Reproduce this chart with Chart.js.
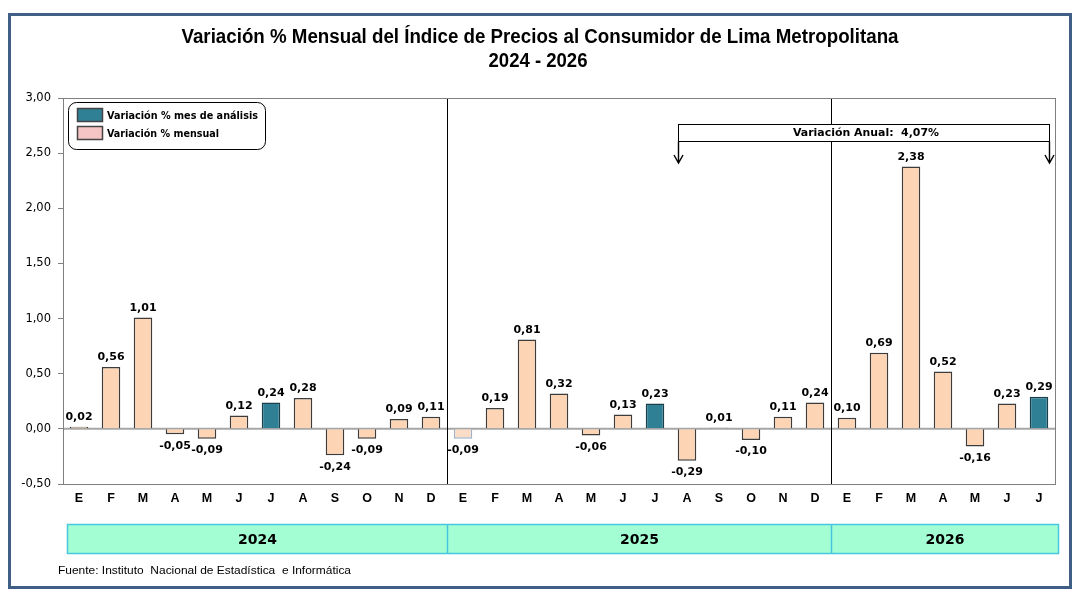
<!DOCTYPE html>
<html>
<head>
<meta charset="utf-8">
<script src="https://cdn.jsdelivr.net/npm/chart.js@4.4.1/dist/chart.umd.min.js"></script>
<style>
  html, body { margin: 0; padding: 0; background: #fff; }
  canvas { display: block; }
</style>
</head>
<body>
<canvas id="ipcChart" width="1082" height="597" style="width:1082px;height:597px"></canvas>
<script>
// meses (E..D) para 2024, 2025 y 2026 (hasta julio)
const meses = ['E','F','M','A','M','J','J','A','S','O','N','D',
               'E','F','M','A','M','J','J','A','S','O','N','D',
               'E','F','M','A','M','J','J'];
const anios = ['2024', '2025', '2026'];
const mesesPorAnio = [12, 12, 7];

const var2024 = [0.02, 0.56, 1.01, -0.05, -0.09, 0.12, 0.24, 0.28, -0.24, -0.09, 0.09, 0.11];
const var2025 = [-0.09, 0.19, 0.81, 0.32, -0.06, 0.13, 0.23, -0.29, 0.01, -0.10, 0.11, 0.24];
const var2026 = [0.10, 0.69, 2.38, 0.52, -0.16, 0.23, 0.29];
const variaciones = var2024.concat(var2025, var2026);

// indices del mes de analisis (julio de cada año)
const mesAnalisis = [6, 18, 30];
const yTicks = [-0.5, 0, 0.5, 1, 1.5, 2, 2.5, 3];
const variacionAnual = '4,07%';
const inicioAnual = 19, finAnual = 30;

const TEAL = '#2f7f95';
const PEACH = '#fdd5b4';

function coma(v) { return v.toFixed(2).replace('.', ','); }

// texto ajustado a un ancho dado (escala horizontal)
function textoAncho(ctx, txt, x, y, ancho, align) {
  const w = ctx.measureText(txt).width;
  const s = ancho / w;
  ctx.save();
  ctx.translate(x, y);
  ctx.scale(s, 1);
  ctx.textAlign = align || 'left';
  ctx.fillText(txt, 0, 0);
  ctx.restore();
}

const decoracion = {
  id: 'decoracion',
  beforeDatasetsDraw(chart) {
    const { ctx, chartArea: a, scales } = chart;
    const y0 = scales.y.getPixelForValue(0);
    ctx.save();
    // linea del cero
    ctx.strokeStyle = '#a6a6a6';
    ctx.lineWidth = 2;
    ctx.beginPath();
    ctx.moveTo(a.left, y0);
    ctx.lineTo(a.right, y0);
    ctx.stroke();
    // separadores de año
    ctx.strokeStyle = '#000';
    ctx.lineWidth = 1;
    let idx = 0;
    for (let i = 0; i < mesesPorAnio.length - 1; i++) {
      idx += mesesPorAnio[i];
      const x = Math.round((scales.x.getPixelForValue(idx - 1) + scales.x.getPixelForValue(idx)) / 2) + 0.5;
      ctx.beginPath();
      ctx.moveTo(x, a.top);
      ctx.lineTo(x, a.bottom);
      ctx.stroke();
    }
    ctx.restore();
  },
  afterDatasetsDraw(chart) {
    const { ctx, chartArea: a, scales } = chart;
    const meta = chart.getDatasetMeta(0);
    ctx.save();
    // etiquetas de datos
    ctx.font = 'bold 11px "DejaVu Sans"';
    ctx.fillStyle = '#000';
    ctx.textAlign = 'center';
    meta.data.forEach((bar, i) => {
      const v = variaciones[i];
      if (v >= 0) {
        ctx.textBaseline = 'bottom';
        ctx.fillText(coma(v), bar.x, bar.y - 4);
      } else {
        ctx.textBaseline = 'top';
        ctx.fillText(coma(v), bar.x, bar.y + 6);
      }
    });

    // recuadro de variacion anual
    const bx1 = Math.round(scales.x.getPixelForValue(inicioAnual) - 9) + 0.5;
    const bx2 = Math.round(scales.x.getPixelForValue(finAnual) + 10) + 0.5;
    const by1 = 124.5, by2 = 141.5;
    ctx.fillStyle = '#fff';
    ctx.fillRect(bx1, by1, bx2 - bx1, by2 - by1);
    ctx.strokeStyle = '#000';
    ctx.lineWidth = 1;
    ctx.strokeRect(bx1, by1, bx2 - bx1, by2 - by1);
    [bx1, bx2].forEach(x => {
      ctx.beginPath();
      ctx.moveTo(x, by2);
      ctx.lineTo(x, 163);
      ctx.moveTo(x - 4.5, 155);
      ctx.lineTo(x, 163);
      ctx.lineTo(x + 4.5, 155);
      ctx.lineWidth = 1.4;
      ctx.stroke();
    });
    ctx.fillStyle = '#000';
    ctx.font = 'bold 11px "DejaVu Sans"';
    ctx.textBaseline = 'middle';
    textoAncho(ctx, 'Variación Anual:  ' + variacionAnual, 866, 133, 146, 'center');

    // leyenda
    ctx.beginPath();
    ctx.roundRect(68.5, 102.5, 197, 47, 8);
    ctx.fillStyle = '#fff';
    ctx.fill();
    ctx.strokeStyle = '#000';
    ctx.lineWidth = 1;
    ctx.stroke();
    ctx.fillStyle = TEAL;
    ctx.fillRect(77.5, 108.5, 25, 13);
    ctx.strokeStyle = '#444';
    ctx.lineWidth = 1.5;
    ctx.strokeRect(77.5, 108.5, 25, 13);
    ctx.fillStyle = '#f5c4c4';
    ctx.fillRect(77.5, 126.5, 25, 13);
    ctx.strokeRect(77.5, 126.5, 25, 13);
    ctx.fillStyle = '#000';
    ctx.font = 'bold 11px "DejaVu Sans Condensed", "DejaVu Sans"';
    ctx.textBaseline = 'middle';
    textoAncho(ctx, 'Variación % mes de análisis', 107, 116, 151);
    textoAncho(ctx, 'Variación % mensual', 107, 134, 112);

    // franja de años
    const fy1 = 524.5, fy2 = 553.5;
    const fx1 = a.left + 4.5, fx2 = a.right + 3.5;
    ctx.fillStyle = '#a3ffd3';
    ctx.fillRect(fx1, fy1, fx2 - fx1, fy2 - fy1);
    ctx.strokeStyle = '#47c6e0';
    ctx.lineWidth = 1.5;
    ctx.strokeRect(fx1, fy1, fx2 - fx1, fy2 - fy1);
    let idx = 0;
    let xa = fx1;
    ctx.font = 'bold 14px "DejaVu Sans"';
    ctx.fillStyle = '#000';
    ctx.textAlign = 'center';
    mesesPorAnio.forEach((n, k) => {
      idx += n;
      let xb;
      if (k < mesesPorAnio.length - 1) {
        xb = Math.round((scales.x.getPixelForValue(idx - 1) + scales.x.getPixelForValue(idx)) / 2) + 0.5;
        ctx.beginPath();
        ctx.moveTo(xb, fy1);
        ctx.lineTo(xb, fy2);
        ctx.stroke();
      } else {
        xb = fx2;
      }
      ctx.fillText(anios[k], (xa + xb) / 2, 540);
      xa = xb;
    });

    // titulo
    ctx.fillStyle = '#000';
    ctx.font = 'bold 20px "Liberation Sans"';
    ctx.textBaseline = 'middle';
    textoAncho(ctx, 'Variación % Mensual del Índice de Precios al Consumidor de Lima Metropolitana', 540, 37, 717, 'center');
    textoAncho(ctx, '2024 - 2026', 538, 61, 99, 'center');

    // fuente
    ctx.font = '11.5px "Liberation Sans"';
    textoAncho(ctx, 'Fuente: Instituto  Nacional de Estadística  e Informática', 58, 571, 293);

    // marco exterior
    ctx.strokeStyle = '#3f5f86';
    ctx.lineWidth = 3;
    ctx.strokeRect(9.5, 14.5, 1061, 573);

    // borde del area de trazado
    ctx.strokeStyle = '#808080';
    ctx.lineWidth = 1;
    ctx.strokeRect(a.left + 0.5, a.top + 0.5, a.right - a.left, a.bottom - a.top);
    ctx.restore();
  }
};

const ctx = document.getElementById('ipcChart').getContext('2d');

const grafico = new Chart(ctx, {
  type: 'bar',
  data: {
    labels: meses,
    datasets: [{
      label: 'Variación % mensual',
      data: variaciones,
      backgroundColor: c => mesAnalisis.includes(c.dataIndex) ? TEAL : (c.dataIndex === 12 ? '#fbdcc6' : PEACH),
      borderColor: c => mesAnalisis.includes(c.dataIndex) ? '#1c3f4a' : (c.dataIndex === 12 ? '#9fb3c8' : '#3c3c3c'),
      borderWidth: 1.5,
      minBarLength: 1,
      barPercentage: 0.58,
      categoryPercentage: 1
    }]
  },
  options: {
    responsive: false,
    animation: false,
    devicePixelRatio: 1,
    layout: { padding: { left: 8, right: 27, top: 98, bottom: 79 } },
    plugins: {
      legend: { display: false },
      title: { display: false },
      tooltip: { enabled: false }
    },
    scales: {
      x: {
        grid: { display: false, tickLength: 0 },
        border: { display: false },
        ticks: {
          color: '#000',
          padding: 7,
          maxRotation: 0,
          autoSkip: false,
          font: { family: 'Liberation Sans', weight: 'bold', size: 12.5 }
        },
        afterFit(scale) { scale.height = 34; }
      },
      y: {
        min: -0.5,
        max: 3,
        afterBuildTicks(scale) { scale.ticks = yTicks.map(v => ({ value: v })); },
        grid: { drawOnChartArea: false, color: '#808080', tickLength: 5 },
        border: { color: '#808080' },
        ticks: {
          color: '#000',
          padding: 7,
          font: { family: 'DejaVu Sans', size: 11.5 },
          callback: v => coma(v)
        },
        afterFit(scale) { scale.width = 55; }
      }
    }
  },
  plugins: [decoracion]
});
</script>
</body>
</html>
